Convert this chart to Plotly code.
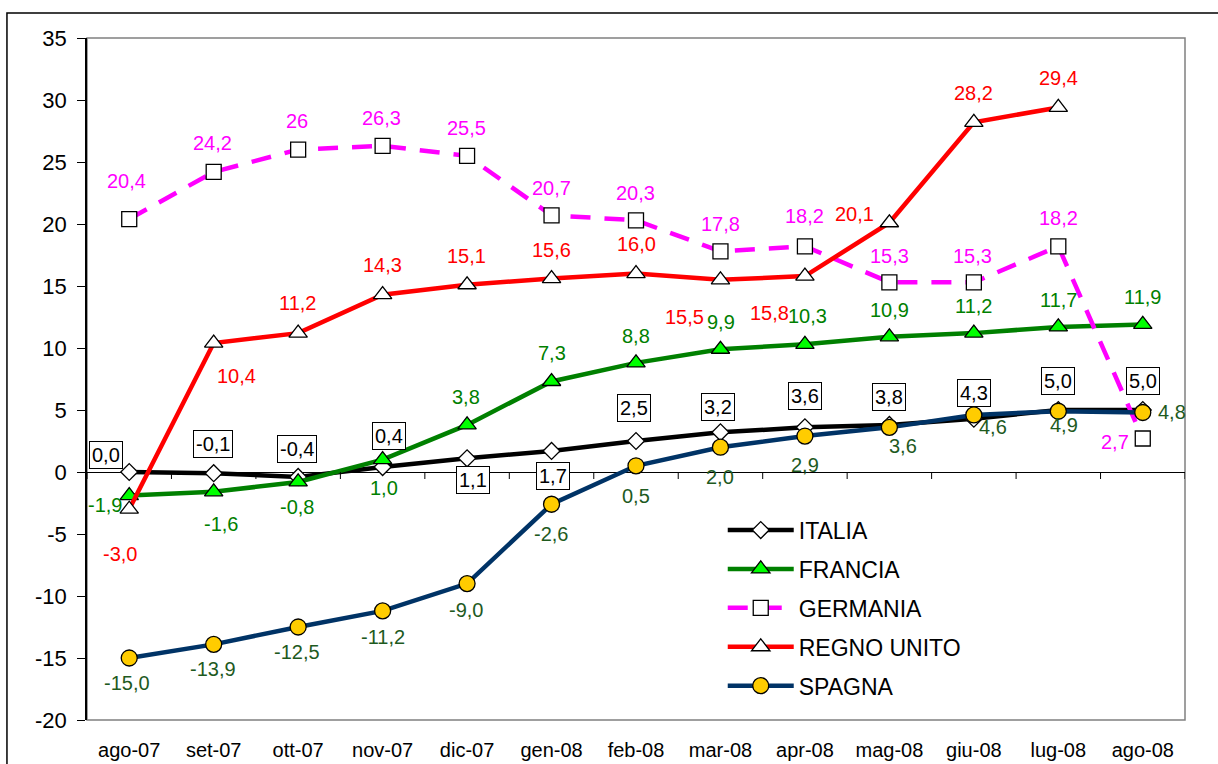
import plotly.graph_objects as go

categories = ["ago-07", "set-07", "ott-07", "nov-07", "dic-07", "gen-08", "feb-08",
              "mar-08", "apr-08", "mag-08", "giu-08", "lug-08", "ago-08"]

italia = [0.0, -0.1, -0.4, 0.4, 1.1, 1.7, 2.5, 3.2, 3.6, 3.8, 4.3, 5.0, 5.0]
francia = [-1.9, -1.6, -0.8, 1.0, 3.8, 7.3, 8.8, 9.9, 10.3, 10.9, 11.2, 11.7, 11.9]
germania = [20.4, 24.2, 26, 26.3, 25.5, 20.7, 20.3, 17.8, 18.2, 15.3, 15.3, 18.2, 2.7]
regno_unito = [-3.0, 10.4, 11.2, 14.3, 15.1, 15.6, 16.0, 15.5, 15.8, 20.1, 28.2, 29.4, None]
spagna = [-15.0, -13.9, -12.5, -11.2, -9.0, -2.6, 0.5, 2.0, 2.9, 3.6, 4.6, 4.9, 4.8]

y_ticks = [-20, -15, -10, -5, 0, 5, 10, 15, 20, 25, 30, 35]
y_ticktext = ["-20", "-15", "-10", "-5", "0", "5", "10", "15", "20", "25", "30", "35"]

# label offsets in pixels (dx, dy up)
off_italia = [(-23, 17), (-1, 29), (-1, 28), (6, 31), (6, -22), (1, -25), (-2, 33),
              (-2, 25), (0, 31), (0, 28), (0, 26), (0, 29), (0, 29)]
off_francia = [(-24, -9), (7, -32), (-1, -25), (1, -28), (-1, 28), (0, 28), (0, 27),
               (1, 27), (3, 28), (0, 27), (0, 27), (0, 27), (0, 27)]
off_germania = [(-3, 38), (-1, 29), (-1, 29), (-1, 28), (-1, 28), (0, 27), (-1, 27),
                (0, 27), (0, 30), (0, 26), (-1, 26), (0, 28), (-28, -3)]
off_regno = [(-9, -45), (23, -33), (-1, 30), (0, 30), (-1, 29), (0, 29), (0, 30),
             (-36, -37), (-35, -37), (-35, 9), (0, 29), (0, 29), None]
off_spagna = [(-2, -25), (-1, -25), (-1, -25), (0, -26), (-1, -26), (-1, -30), (0, -30),
              (0, -30), (0, -29), (14, -19), (19, -12), (6, -14), (29, 0)]

FONT = "Arial, 'Liberation Sans', sans-serif"

series = [
    dict(name="ITALIA", y=italia, line=dict(color="black", width=4.5),
         marker=dict(symbol="diamond", size=13, color="white", line=dict(color="black", width=1.3)),
         lab_color="black", fmt=lambda v: f"{v:.1f}".replace(".", ","), off=off_italia, box=True),
    dict(name="FRANCIA", y=francia, line=dict(color="#008000", width=4.5),
         marker=dict(symbol="triangle-up", size=16, color="#00FF00", line=dict(color="black", width=1.3)),
         lab_color="#008000", fmt=lambda v: f"{v:.1f}".replace(".", ","), off=off_francia, box=False),
    dict(name="GERMANIA", y=germania, line=dict(color="#FF00FF", width=4.5, dash="20px,14px"),
         marker=dict(symbol="square", size=15, color="white", line=dict(color="black", width=1.3)),
         lab_color="#FF00FF", fmt=lambda v: f"{v:g}".replace(".", ","), off=off_germania, box=False),
    dict(name="REGNO UNITO", y=regno_unito, line=dict(color="#FF0000", width=4.5),
         marker=dict(symbol="triangle-up", size=16, color="white", line=dict(color="black", width=1.3)),
         lab_color="#FF0000", fmt=lambda v: f"{v:.1f}".replace(".", ","), off=off_regno, box=False),
    dict(name="SPAGNA", y=spagna, line=dict(color="#003366", width=4.5),
         marker=dict(symbol="circle", size=16, color="#FFCC00", line=dict(color="black", width=1.3)),
         lab_color="#1E5A1E", fmt=lambda v: f"{v:.1f}".replace(".", ","), off=off_spagna, box=False),
]

fig = go.Figure()
annotations = []
for i, s in enumerate(series):
    fig.add_trace(go.Scatter(
        x=categories, y=s["y"], mode="lines+markers", name=s["name"],
        line=s["line"], marker=s["marker"], legendgroup=s["name"], connectgaps=False,
    ))
    for j, v in enumerate(s["y"]):
        if v is None:
            continue
        dx, dy = s["off"][j]
        a = dict(x=categories[j], y=v, xref="x", yref="y", text=s["fmt"](v),
                 showarrow=False, xshift=dx, yshift=dy,
                 font=dict(family=FONT, size=20, color=s["lab_color"]))
        if s["box"]:
            a.update(bgcolor="white", bordercolor="black", borderwidth=1, borderpad=2)
        annotations.append(a)

shapes = []
# tick marks on the category axis (which crosses at 0), between categories
for k in range(len(categories) + 1):
    shapes.append(dict(type="line", xref="x", yref="y", x0=k - 0.5, x1=k - 0.5,
                       ysizemode="pixel", yanchor=0, y0=0, y1=-7,
                       line=dict(color="black", width=1)))
# plot-area border (grey) and outer chart border (black)
shapes.append(dict(type="rect", xref="paper", yref="paper", x0=0, x1=1, y0=0, y1=1,
                   line=dict(color="#808080", width=1.5), layer="below"))
shapes.append(dict(type="rect", xref="paper", yref="paper", x0=-0.0729, x1=1.05,
                   y0=-0.15, y1=1.0367, line=dict(color="black", width=1.5), layer="below"))

fig.update_layout(
    width=1218, height=764,
    margin=dict(l=87, r=33, t=38, b=44, autoexpand=False),
    paper_bgcolor="white", plot_bgcolor="white",
    font=dict(family=FONT, color="black"),
    showlegend=True,
    legend=dict(x=0.579, y=0.31, xanchor="left", yanchor="top",
                font=dict(family=FONT, size=23, color="black"),
                bgcolor="rgba(0,0,0,0)", borderwidth=0,
                traceorder="grouped", tracegroupgap=6, itemwidth=66),
    xaxis=dict(type="category", range=[-0.5, len(categories) - 0.5],
               showgrid=False, zeroline=False, showline=False, ticks="",
               tickfont=dict(family=FONT, size=20, color="black"),
               ticklabelstandoff=16, automargin=False, fixedrange=True),
    yaxis=dict(range=[-20, 35], tickvals=y_ticks, ticktext=y_ticktext, showgrid=False,
               zeroline=True, zerolinecolor="black", zerolinewidth=1.2,
               showline=True, linecolor="black", linewidth=1.5,
               ticks="outside", ticklen=8, tickcolor="black", tickwidth=1,
               tickfont=dict(family=FONT, size=22, color="black"),
               ticklabelstandoff=6, automargin=False, fixedrange=True),
    shapes=shapes,
    annotations=annotations,
)

fig.write_html("out.html", config={"displayModeBar": False},
               post_script="document.body.style.margin='0';document.body.style.padding='0';")
